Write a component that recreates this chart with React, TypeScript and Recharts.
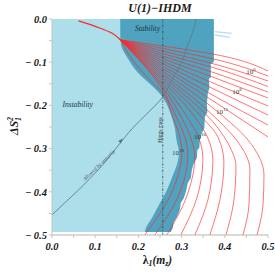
import React from 'react';
import { ComposedChart, Area, Line, XAxis, YAxis, ReferenceLine } from 'recharts';

const xTickLabels = [0, 0.1, 0.2, 0.3, 0.4, 0.5];
const xMinorTicks = [0.05, 0.15, 0.25, 0.35, 0.45];
const yTickLabels = [0, -0.1, -0.2, -0.3, -0.4, -0.5];
const yMinorTicks = [-0.05, -0.15, -0.25, -0.35, -0.45];

const higgsLambda = 0.2564;

// left edge of the stability band (instability region is to the left)
const instabilityEdge = [
  { y: 0, x: 0.158 },
  { y: -0.037, x: 0.158 },
  { y: -0.06, x: 0.16 },
  { y: -0.09, x: 0.175 },
  { y: -0.123, x: 0.198 },
  { y: -0.146, x: 0.222 },
  { y: -0.169, x: 0.246 },
  { y: -0.181, x: 0.256 },
  { y: -0.215, x: 0.273 },
  { y: -0.252, x: 0.284 },
  { y: -0.285, x: 0.289 },
  { y: -0.308, x: 0.294 },
  { y: -0.338, x: 0.289 },
  { y: -0.361, x: 0.28 },
  { y: -0.396, x: 0.266 },
  { y: -0.435, x: 0.245 },
  { y: -0.461, x: 0.231 },
  { y: -0.484, x: 0.217 },
  { y: -0.493, x: 0.215 },
];

// jagged right edge of the stability band
const stabilityEdge = [
  { y: 0, x: 0.3747 },
  { y: -0.0995, x: 0.3747 },
  { y: -0.1042, x: 0.3677 },
  { y: -0.1343, x: 0.3677 },
  { y: -0.1389, x: 0.3631 },
  { y: -0.1597, x: 0.3643 },
  { y: -0.1713, x: 0.3608 },
  { y: -0.1968, x: 0.3585 },
  { y: -0.2153, x: 0.3596 },
  { y: -0.2269, x: 0.3538 },
  { y: -0.2523, x: 0.3527 },
  { y: -0.2639, x: 0.3469 },
  { y: -0.2801, x: 0.3422 },
  { y: -0.2986, x: 0.3411 },
  { y: -0.3032, x: 0.3364 },
  { y: -0.3218, x: 0.3353 },
  { y: -0.3333, x: 0.3283 },
  { y: -0.3495, x: 0.3237 },
  { y: -0.3681, x: 0.3213 },
  { y: -0.3796, x: 0.3144 },
  { y: -0.4005, x: 0.3097 },
  { y: -0.4144, x: 0.3051 },
  { y: -0.4259, x: 0.2981 },
  { y: -0.4421, x: 0.2958 },
  { y: -0.4583, x: 0.2889 },
  { y: -0.4699, x: 0.2819 },
  { y: -0.4838, x: 0.2796 },
  { y: -0.4931, x: 0.2749 },
];

const unitarityCurve = [
  { y: -0.4537, x: 0 },
  { y: -0.426, x: 0.029 },
  { y: -0.398, x: 0.0592 },
  { y: -0.37, x: 0.087 },
  { y: -0.338, x: 0.117 },
  { y: -0.2917, x: 0.1543 },
  { y: -0.2523, x: 0.1868 },
  { y: -0.2176, x: 0.2216 },
  { y: -0.1806, x: 0.2564 },
  { y: -0.1412, x: 0.2773 },
  { y: -0.0995, x: 0.3005 },
  { y: -0.0602, x: 0.3144 },
  { y: -0.0301, x: 0.326 },
  { y: 0, x: 0.334 },
];

const unitarityArrow = [{ y: -0.2824, x: 0.1589 }];

const leadIn = [
  { y: -0.0046, x: 0.0615 },
  { y: -0.0208, x: 0.1102 },
  { y: -0.0324, x: 0.1381 },
  { y: -0.0486, x: 0.1589 },
];

const sliverA = [
  { y: -0.0294, x: 0.377 },
  { y: -0.0331, x: 0.4158 },
];
const sliverB = [
  { y: -0.037, x: 0.377 },
  { y: -0.0424, x: 0.4118 },
];

const C = { y: -0.0486, x: 0.1589 };
const rg01 = [C, { y: -0.0625, x: 0.2564 }, { y: -0.0833, x: 0.384 }, { y: -0.1204, x: 0.5 }];
const rg02 = [C, { y: -0.0683, x: 0.2564 }, { y: -0.0949, x: 0.384 }, { y: -0.1319, x: 0.5 }];
const rg03 = [C, { y: -0.0741, x: 0.2564 }, { y: -0.1065, x: 0.384 }, { y: -0.1435, x: 0.5 }];
const rg04 = [C, { y: -0.0799, x: 0.2564 }, { y: -0.1157, x: 0.384 }, { y: -0.1563, x: 0.5 }];
const rg05 = [C, { y: -0.0856, x: 0.2564 }, { y: -0.1273, x: 0.384 }, { y: -0.169, x: 0.5 }];
const rg06 = [C, { y: -0.0914, x: 0.2564 }, { y: -0.1389, x: 0.384 }, { y: -0.1829, x: 0.5 }];
const rg07 = [C, { y: -0.0972, x: 0.2564 }, { y: -0.1528, x: 0.384 }, { y: -0.2014, x: 0.5 }];
const rg08 = [C, { y: -0.103, x: 0.2564 }, { y: -0.1667, x: 0.384 }, { y: -0.2222, x: 0.5 }];
const rg09 = [C, { y: -0.1088, x: 0.2564 }, { y: -0.1829, x: 0.384 }, { y: -0.2454, x: 0.5 }];
const rg10 = [C, { y: -0.1146, x: 0.2564 }, { y: -0.1968, x: 0.384 }, { y: -0.2731, x: 0.5 }];
const rg11 = [C, { y: -0.1204, x: 0.2564 }, { y: -0.2153, x: 0.384 }, { y: -0.2801, x: 0.4536 }, { y: -0.3611, x: 0.4907 }, { y: -0.4306, x: 0.4884 }, { y: -0.5, x: 0.4745 }];
const rg12 = [C, { y: -0.1262, x: 0.2564 }, { y: -0.2338, x: 0.384 }, { y: -0.2847, x: 0.4304 }, { y: -0.3495, x: 0.4582 }, { y: -0.4306, x: 0.4559 }, { y: -0.5, x: 0.442 }];
const rg13 = [C, { y: -0.1319, x: 0.2564 }, { y: -0.2523, x: 0.384 }, { y: -0.2917, x: 0.4095 }, { y: -0.3403, x: 0.4258 }, { y: -0.419, x: 0.4211 }, { y: -0.5, x: 0.4026 }];
const rg14 = [C, { y: -0.1377, x: 0.2564 }, { y: -0.2222, x: 0.3422 }, { y: -0.2731, x: 0.384 }, { y: -0.3333, x: 0.3979 }, { y: -0.419, x: 0.3886 }, { y: -0.5, x: 0.3654 }];
const rg15 = [C, { y: -0.1435, x: 0.2564 }, { y: -0.2269, x: 0.3306 }, { y: -0.2755, x: 0.3608 }, { y: -0.3264, x: 0.3724 }, { y: -0.419, x: 0.3608 }, { y: -0.5, x: 0.3306 }];
const rg16 = [C, { y: -0.1505, x: 0.2564 }, { y: -0.2292, x: 0.3144 }, { y: -0.2755, x: 0.3399 }, { y: -0.3218, x: 0.3492 }, { y: -0.4144, x: 0.3353 }, { y: -0.5, x: 0.2981 }];
const rg17 = [C, { y: -0.1574, x: 0.2564 }, { y: -0.2292, x: 0.3005 }, { y: -0.2755, x: 0.3213 }, { y: -0.3171, x: 0.3306 }, { y: -0.4097, x: 0.3121 }, { y: -0.5, x: 0.2657 }];
const rg18 = [C, { y: -0.1644, x: 0.2564 }, { y: -0.2292, x: 0.2889 }, { y: -0.2731, x: 0.3074 }, { y: -0.3125, x: 0.3144 }, { y: -0.4074, x: 0.2935 }, { y: -0.5, x: 0.2378 }];
const rg19 = [C, { y: -0.0856, x: 0.1798 }, { y: -0.1412, x: 0.2262 }, { y: -0.1713, x: 0.2564 }, { y: -0.2269, x: 0.2796 }, { y: -0.2731, x: 0.2958 }, { y: -0.3079, x: 0.3005 }, { y: -0.4005, x: 0.2773 }, { y: -0.5, x: 0.2146 }];

const scaleCurves = [rg01, rg02, rg03, rg04, rg05, rg06, rg07, rg08, rg09, rg10, rg11, rg12, rg13, rg14, rg15, rg16, rg17, rg18, rg19];

const SERIF = '"Liberation Serif", "DejaVu Serif", serif';
const LIGHT = '#ADDFEB';
const DARK = '#4FA3BE';
const RED = '#ff2626';

const isMajor = (v: number, list: number[]) => list.some((t) => Math.abs(t - v) < 1e-9);
const fmtX = (v: number) => (isMajor(v, xTickLabels) ? v.toFixed(1) : '');
const fmtY = (v: number) =>
  isMajor(v, yTickLabels) ? (Math.abs(v) < 1e-9 ? '0.0' : '\u2212 ' + Math.abs(v).toFixed(1)) : '';

const allX = [...xTickLabels, ...xMinorTicks].sort((a, b) => a - b);
const allY = [...yTickLabels, ...yMinorTicks].sort((a, b) => b - a);

const XTick = (props: any) => {
  const { x, y, payload } = props;
  const s = fmtX(payload.value);
  if (!s) return <g />;
  return (
    <text x={x} y={y} dy="0.71em" textAnchor="middle" fontFamily={SERIF} fontSize={10.5} fontWeight={700} fontStyle="italic" fill="#1a1a1a">
      {s}
    </text>
  );
};

const YTick = (props: any) => {
  const { x, y, payload } = props;
  const s = fmtY(payload.value);
  if (!s) return <g />;
  return (
    <text x={x} y={y} dy="0.355em" textAnchor="end" fontFamily={SERIF} fontSize={10.5} fontWeight={700} fontStyle="italic" fill="#1a1a1a">
      {s}
    </text>
  );
};

const ArrowDot = (props: any) => {
  const { cx, cy } = props;
  if (cx == null || cy == null) return null;
  return (
    <polygon
      key="arrow"
      points="0,-3.2 1.8,1.6 -1.8,1.6"
      fill="#55707c"
      transform={`translate(${cx},${cy}) rotate(42)`}
    />
  );
};

export default function App() {
  return (
    <div style={{ position: 'absolute', left: 0, top: 0, width: 275, height: 278, background: '#fff' }}>
      <ComposedChart
        width={275}
        height={278}
        layout="vertical"
        margin={{ top: 19, right: 7, bottom: 13, left: 0 }}
      >
        <XAxis
          type="number"
          domain={[0, 0.5]}
          ticks={allX}
          allowDataOverflow
          height={30}
          tickFormatter={fmtX}
          tick={<XTick />}
          tickSize={3}
          tickMargin={5}
          axisLine={{ stroke: '#b5b5b5' }}
          tickLine={{ stroke: '#c4c4c4' }}
          interval={0}
        />
        <XAxis
          xAxisId="top"
          orientation="top"
          type="number"
          domain={[0, 0.5]}
          ticks={allX}
          height={0}
          tick={false}
          axisLine={false}
          tickLine={{ stroke: '#c8c8c8' }}
          tickSize={3}
          interval={0}
        />
        <YAxis
          type="number"
          dataKey="y"
          domain={[-0.5, 0]}
          ticks={allY}
          reversed
          allowDataOverflow
          width={52}
          tickFormatter={fmtY}
          tick={<YTick />}
          tickSize={3}
          tickMargin={2}
          axisLine={{ stroke: '#c4c4c4' }}
          tickLine={{ stroke: '#c4c4c4' }}
          interval={0}
        />
        <YAxis
          yAxisId="right"
          orientation="right"
          type="number"
          domain={[-0.5, 0]}
          ticks={allY}
          reversed
          width={0}
          tick={false}
          axisLine={false}
          tickLine={{ stroke: '#c8c8c8' }}
          tickSize={3}
          interval={0}
        />
        <Area
          data={stabilityEdge}
          dataKey="x"
          type="linear"
          baseValue={0}
          stroke="none"
          fill={DARK}
          fillOpacity={1}
          isAnimationActive={false}
        />
        <Area
          data={instabilityEdge}
          dataKey="x"
          type="monotone"
          baseValue={0}
          stroke="none"
          fill={LIGHT}
          fillOpacity={1}
          isAnimationActive={false}
        />
        <Line data={sliverA} dataKey="x" type="linear" stroke="#b4e0ec" strokeWidth={1.3} dot={false} isAnimationActive={false} />
        <Line data={sliverB} dataKey="x" type="linear" stroke="#b4e0ec" strokeWidth={1.3} dot={false} isAnimationActive={false} />
        {scaleCurves.map((c, i) => (
          <Line
            key={'rg' + i}
            data={c}
            dataKey="x"
            type="monotone"
            stroke={RED}
            strokeWidth={0.75}
            strokeOpacity={0.85}
            dot={false}
            isAnimationActive={false}
          />
        ))}
        <Line data={leadIn} dataKey="x" type="monotone" stroke={RED} strokeWidth={1.3} dot={false} isAnimationActive={false} />
        <Line data={unitarityCurve} dataKey="x" type="monotone" stroke="#5e7d8a" strokeWidth={0.9} dot={false} isAnimationActive={false} />
        <Line data={unitarityArrow} dataKey="x" stroke="none" dot={ArrowDot} isAnimationActive={false} />
        <ReferenceLine x={higgsLambda} stroke="#34444e" strokeWidth={0.8} strokeDasharray="2.5 1.5 0.8 1.5" />
      </ComposedChart>
      <svg
        width={275}
        height={278}
        style={{ position: 'absolute', left: 0, top: 0, pointerEvents: 'none' }}
        fontFamily={SERIF}
      >
        <text x={160} y={11.5} textAnchor="middle" fontSize={12} fontWeight={700} fontStyle="italic" fill="#1a1a1a">
          U(1)−IHDM
        </text>
        <text x={147.5} y={30.5} textAnchor="middle" fontSize={7.5} fontStyle="italic" fill="#21343c">
          Stability
        </text>
        <text x={77.7} y={107} textAnchor="middle" fontSize={7.5} fontStyle="italic" fill="#21343c">
          Instability
        </text>
        <text x={162.2} y={130} textAnchor="middle" fontSize={5.5} fill="#333" transform="rotate(-90 162.2 130)">
          Higgs mass
        </text>
        <text x={100.3} y={166.3} textAnchor="middle" fontSize={5.2} fontStyle="italic" fill="#4a5a62" transform="rotate(-44 100.3 166.3)">
          Allowed by unitarity
        </text>
        {[
          { t: '6', x: 251, y: 73.5 },
          { t: '8', x: 237, y: 93.5 },
          { t: '12', x: 222, y: 113.5 },
          { t: '16', x: 200, y: 138.5 },
          { t: '18', x: 178, y: 154.5 },
        ].map((l) => (
          <text key={l.t} x={l.x} y={l.y} textAnchor="middle" fontSize={7} fill="#3a3a3a">
            10
            <tspan fontSize={5} dy={-3}>
              {l.t}
            </tspan>
          </text>
        ))}
        <text x={157.5} y={263.5} textAnchor="middle" fontSize={11.5} fontWeight={700} fill="#1a1a1a">
          λ
          <tspan fontSize={8} dy={2.5} fontStyle="italic">1</tspan>
          <tspan dy={-2.5} fontStyle="italic">(m</tspan>
          <tspan fontSize={8} dy={2.5} fontStyle="italic">z</tspan>
          <tspan dy={-2.5} fontStyle="italic">)</tspan>
        </text>
        <text x={18} y={126} textAnchor="middle" fontSize={12} fontWeight={700} fontStyle="italic" fill="#1a1a1a" transform="rotate(-90 18 126)">
          ΔS
          <tspan fontSize={8} dy={2.5}>1</tspan>
          <tspan fontSize={8} dx={-4} dy={-8}>2</tspan>
        </text>
      </svg>
    </div>
  );
}
